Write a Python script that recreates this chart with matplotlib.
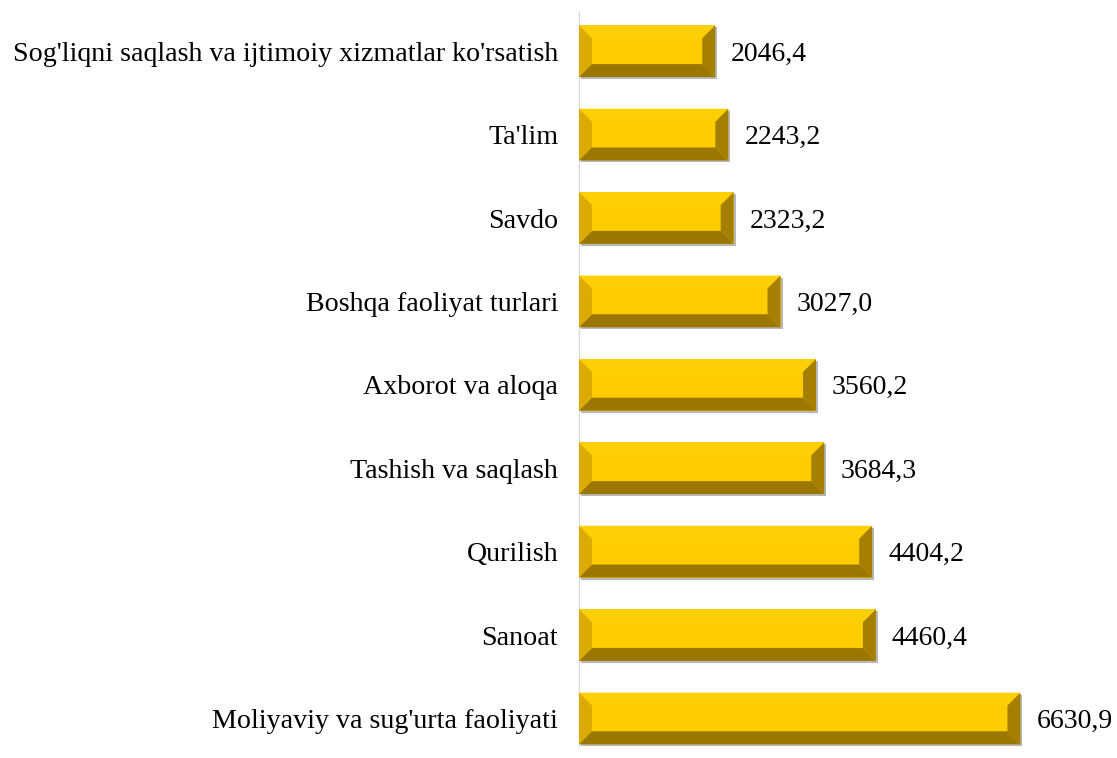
import matplotlib
matplotlib.use("Agg")
import matplotlib.pyplot as plt
from matplotlib.patches import Polygon
from matplotlib.transforms import ScaledTranslation

categories = ["Moliyaviy va sug'urta faoliyati", "Sanoat", "Qurilish", "Tashish va saqlash",
              "Axborot va aloqa", "Boshqa faoliyat turlari", "Savdo", "Ta'lim",
              "Sog'liqni saqlash va ijtimoiy xizmatlar ko'rsatish"]
values = [6630.9, 4460.4, 4404.2, 3684.3, 3560.2, 3027.0, 2323.2, 2243.2, 2046.4]
labels = ["6630,9", "4460,4", "4404,2", "3684,3", "3560,2", "3027,0", "2323,2", "2243,2", "2046,4"]

plt.rcParams['font.family'] = ['Liberation Serif', 'DejaVu Serif']

fig = plt.figure(figsize=(11.17, 7.58), dpi=100)
W, H = 1117, 758
ax = fig.add_axes([579 / W, 12 / H, (1045 - 579) / W, (746 - 12) / H])
ax.set_xlim(0, 7000)
ax.set_ylim(-0.33, 8.47)

ypos = list(range(len(categories)))
bh = 0.62
bars = ax.barh(ypos, values, height=bh, color='#FFCC00', edgecolor='none', zorder=2)

fig.canvas.draw()
x0, x1 = ax.get_xlim(); y0, y1 = ax.get_ylim()
bb = ax.get_window_extent()
sx = (x1 - x0) / bb.width
sy = (y1 - y0) / bb.height

for b in bars:
    x = b.get_x(); y = b.get_y(); w = b.get_width(); h = b.get_height()
    ax.add_patch(plt.Rectangle((x + 2 * sx, y - 2 * sy), w, h, color='#B8B8B8', zorder=1.5, lw=0))
    bx = 13 * sx; byb = 13 * sy; byt = 13 * sy
    xr = x + w; yt = y + h
    ax.add_patch(Polygon([(x, yt), (xr, yt), (xr - bx, yt - byt), (x + bx, yt - byt)],
                         closed=True, color='#FFCF05', lw=0, zorder=3))
    ax.add_patch(Polygon([(x, y), (x, yt), (x + bx, yt - byt), (x + bx, y + byb)],
                         closed=True, color='#DCAA00', lw=0, zorder=3))
    ax.add_patch(Polygon([(xr, y), (xr, yt), (xr - bx, yt - byt), (xr - bx, y + byb)],
                         closed=True, color='#A47F00', lw=0, zorder=3))
    ax.add_patch(Polygon([(x, y), (xr, y), (xr - bx, y + byb), (x + bx, y + byb)],
                         closed=True, color='#9A7700', lw=0, zorder=3))

for yv, v, lab in zip(ypos, values, labels):
    ax.text(v + 16 * sx, yv - 9.5 * sy, lab, va='baseline', ha='left', fontsize=20, color='black')

ax.set_yticks(ypos)
ax.set_yticklabels(categories, fontsize=20.2)
ax.tick_params(axis='y', length=0, pad=15)
shift = ScaledTranslation(0, -9.5 / 100, fig.dpi_scale_trans)
for t in ax.get_yticklabels():
    t.set_va('baseline')
    t.set_transform(t.get_transform() + shift)
ax.set_xticks([])
for s in ['top', 'right', 'bottom']:
    ax.spines[s].set_visible(False)
ax.spines['left'].set_color('#D9D9D9')
ax.spines['left'].set_linewidth(1.0)

fig.savefig('out.png', dpi=100)
